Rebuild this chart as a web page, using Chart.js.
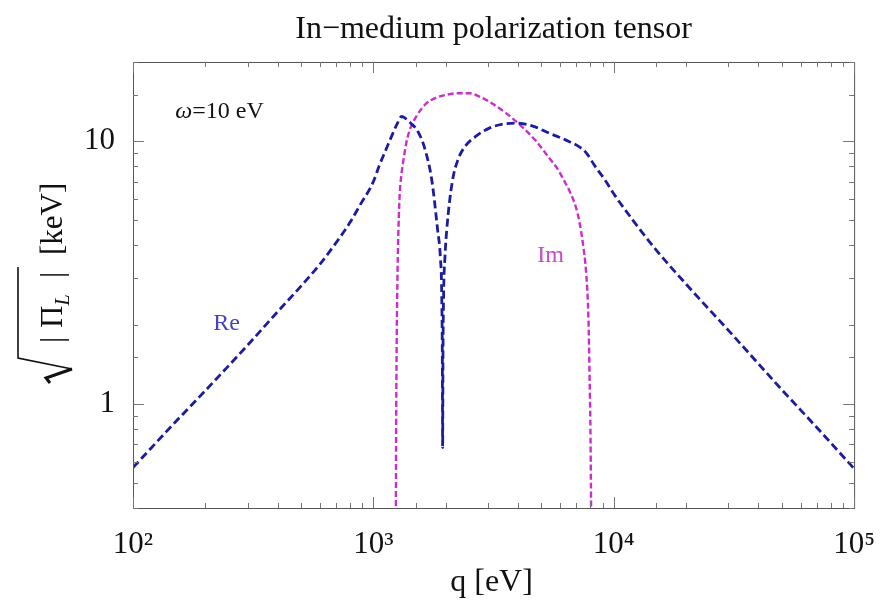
<!DOCTYPE html>
<html>
<head>
<meta charset="utf-8">
<script src="https://cdn.jsdelivr.net/npm/chart.js@4.4.1/dist/chart.umd.min.js"></script>
<style>
  html, body { margin: 0; padding: 0; background: #fff; }
  #wrap { width: 885px; height: 601px; }
</style>
</head>
<body>
<div id="wrap"><canvas id="polChart" width="885" height="601"></canvas></div>
<script>
// q [eV] ja sqrt|Pi_L| [keV], luettu kuvasta
const qRe = [100, 150, 200, 300, 400, 500, 600, 700, 800, 880, 1000, 1060, 1130, 1200, 1260, 1310,
  1360, 1430, 1530, 1640, 1750, 1850, 1900, 1925, 1936, 1942, 1948, 1960, 1985, 2020, 2130, 2250,
  2400, 2700, 3040, 3450, 3930, 4600, 5400, 6300, 7190, 7700, 8300, 9300, 10000, 12000, 15000,
  20000, 30000, 50000, 70000, 100000];
const reValues = [0.57, 0.85, 1.12, 1.67, 2.24, 2.8, 3.4, 4.1, 4.9, 5.7, 7.0, 8.1, 9.3, 10.6, 11.7, 12.4,
  12.2, 11.7, 10.9, 9.3, 7.1, 4.6, 3.6, 2.6, 1.5, 0.68, 1.5, 2.6, 3.6, 4.6, 7.0, 8.5,
  9.5, 10.5, 11.2, 11.6, 11.7, 11.4, 10.7, 10.1, 9.5, 9.0, 8.1, 7.0, 6.3, 5.0, 3.85,
  2.85, 1.9, 1.13, 0.81, 0.565];

const qIm = [1238, 1243, 1247, 1256, 1266, 1285, 1305, 1327, 1370, 1416, 1500, 1660, 1820, 2010, 2250,
  2510, 2750, 3040, 3550, 4170, 4750, 5400, 5800, 6200, 6600, 6960, 7190, 7450, 7680, 7850, 7930,
  8000, 8030, 8060, 8080];
const imValues = [0.2, 0.7, 1.25, 2.5, 3.9, 6.1, 7.3, 8.2, 9.8, 11.0, 12.3, 13.9, 14.6, 15.0, 15.2,
  15.2, 14.8, 14.1, 12.8, 11.3, 10.0, 8.6, 7.9, 7.1, 6.35, 5.6, 4.95, 4.05, 3.13, 2.1, 1.3,
  0.8, 0.54, 0.3, 0.1];

const xTickLabels = { 100: '10²', 1000: '10³', 10000: '10⁴', 100000: '10⁵' };
const yTickLabels = { 1: '1', 10: '10' };

const serif = "'Liberation Serif', 'Times New Roman', serif";
const reColor = '#1c1ca0';
const imColor = '#cc2ccc';

function isDecade(v) {
    const l = Math.log10(v);
    return Math.abs(l - Math.round(l)) < 1e-6;
}

// Kehys, sisäänpäin osoittavat tikit ja tekstit
const framePlugin = {
    id: 'frame',
    afterDraw(chart) {
        const ctx = chart.ctx;
        const a = chart.chartArea;
        const xs = chart.scales.x, ys = chart.scales.y;
        ctx.save();
        ctx.strokeStyle = '#555';
        ctx.lineWidth = 1;
        ctx.strokeRect(a.left + 0.5, a.top + 0.5, a.right - a.left, a.bottom - a.top);

        ctx.strokeStyle = '#777';
        ctx.beginPath();
        xs.ticks.forEach(t => {
            const px = Math.round(xs.getPixelForValue(t.value)) + 0.5;
            const len = isDecade(t.value) ? 11 : 5;
            ctx.moveTo(px, a.bottom); ctx.lineTo(px, a.bottom - len);
            ctx.moveTo(px, a.top); ctx.lineTo(px, a.top + len);
        });
        ys.ticks.forEach(t => {
            const py = Math.round(ys.getPixelForValue(t.value)) + 0.5;
            const len = isDecade(t.value) ? 11 : 5;
            ctx.moveTo(a.left, py); ctx.lineTo(a.left + len, py);
            ctx.moveTo(a.right, py); ctx.lineTo(a.right - len, py);
        });
        ctx.stroke();

        // otsikko
        ctx.fillStyle = '#111';
        ctx.font = '32px ' + serif;
        ctx.textAlign = 'center';
        ctx.textBaseline = 'middle';
        ctx.fillText('In\u2212medium polarization tensor', (a.left + a.right) / 2, 30);

        // x-akselin nimi
        ctx.font = '32px ' + serif;
        ctx.fillText('q [eV]', (a.left + a.right) / 2 - 2, 583);

        // merkinnät datakoordinaateissa
        ctx.textAlign = 'left';
        ctx.font = 'italic 24px ' + serif;
        const ox = xs.getPixelForValue(150), oy = ys.getPixelForValue(12.9);
        ctx.fillText('\u03c9', ox, oy);
        const ow = ctx.measureText('\u03c9').width;
        ctx.font = '24px ' + serif;
        ctx.fillText('=10 eV', ox + ow, oy);

        ctx.textAlign = 'center';
        ctx.font = '24px ' + serif;
        ctx.fillStyle = '#4444c4';
        ctx.fillText('Re', xs.getPixelForValue(245), ys.getPixelForValue(2.02));
        ctx.fillStyle = '#c84ac8';
        ctx.fillText('Im', xs.getPixelForValue(5460), ys.getPixelForValue(3.67));

        // y-akselin nimi: sqrt|Pi_L| [keV]
        ctx.translate(70, 281);
        ctx.rotate(-Math.PI / 2);
        ctx.fillStyle = '#111';
        ctx.strokeStyle = '#111';
        ctx.textAlign = 'left';
        ctx.textBaseline = 'alphabetic';
        // juurimerkki
        ctx.beginPath();
        ctx.moveTo(-102, -20);
        ctx.lineTo(-97, -24);
        ctx.lineTo(-88, 2);
        ctx.lineWidth = 3;
        ctx.stroke();
        ctx.beginPath();
        ctx.lineWidth = 1.6;
        ctx.moveTo(-88, 2);
        ctx.lineTo(-77, -52);
        ctx.lineTo(14, -52);
        ctx.stroke();
        ctx.font = '31px ' + serif;
        ctx.fillText('|', -62, -8);
        ctx.fillText('\u03a0', -47, -8);
        const pw = ctx.measureText('\u03a0').width;
        ctx.font = 'italic 20px ' + serif;
        ctx.fillText('L', -47 + pw, -1);
        ctx.font = '31px ' + serif;
        ctx.fillText('|', 3, -8);
        ctx.fillText('[keV]', 26, -8);
        ctx.restore();
    }
};

const ctx = document.getElementById('polChart').getContext('2d');
new Chart(ctx, {
    type: 'line',
    data: {
        datasets: [{
            label: 'Re',
            data: qRe.map((q, i) => ({ x: q, y: reValues[i] })),
            borderColor: reColor,
            borderWidth: 2.8,
            borderDash: [8, 4],
            pointRadius: 0,
            cubicInterpolationMode: 'monotone',
            fill: false
        }, {
            label: 'Im',
            data: qIm.map((q, i) => ({ x: q, y: imValues[i] })),
            borderColor: imColor,
            borderWidth: 2.4,
            borderDash: [6, 3],
            pointRadius: 0,
            cubicInterpolationMode: 'monotone',
            fill: false
        }]
    },
    options: {
        responsive: false,
        animation: false,
        layout: { padding: { top: 62, right: 30, left: 0, bottom: 0 } },
        plugins: { legend: { display: false }, title: { display: false }, tooltip: { enabled: false } },
        scales: {
            x: {
                type: 'logarithmic',
                min: 100,
                max: 100000,
                grid: { display: false },
                border: { display: false },
                afterFit: s => { s.height = 93; },
                ticks: {
                    autoSkip: false,
                    maxRotation: 0,
                    padding: 10,
                    color: '#111',
                    font: { family: serif, size: 31 },
                    callback: v => xTickLabels[Math.round(v)] || ''
                }
            },
            y: {
                type: 'logarithmic',
                min: 0.4,
                max: 20,
                grid: { display: false },
                border: { display: false },
                afterFit: s => { s.width = 133; },
                ticks: {
                    autoSkip: false,
                    padding: 10,
                    color: '#111',
                    font: { family: serif, size: 31 },
                    callback: v => (isDecade(v) ? (yTickLabels[Math.round(v)] || '') : '')
                }
            }
        }
    },
    plugins: [framePlugin]
});
</script>
</body>
</html>
